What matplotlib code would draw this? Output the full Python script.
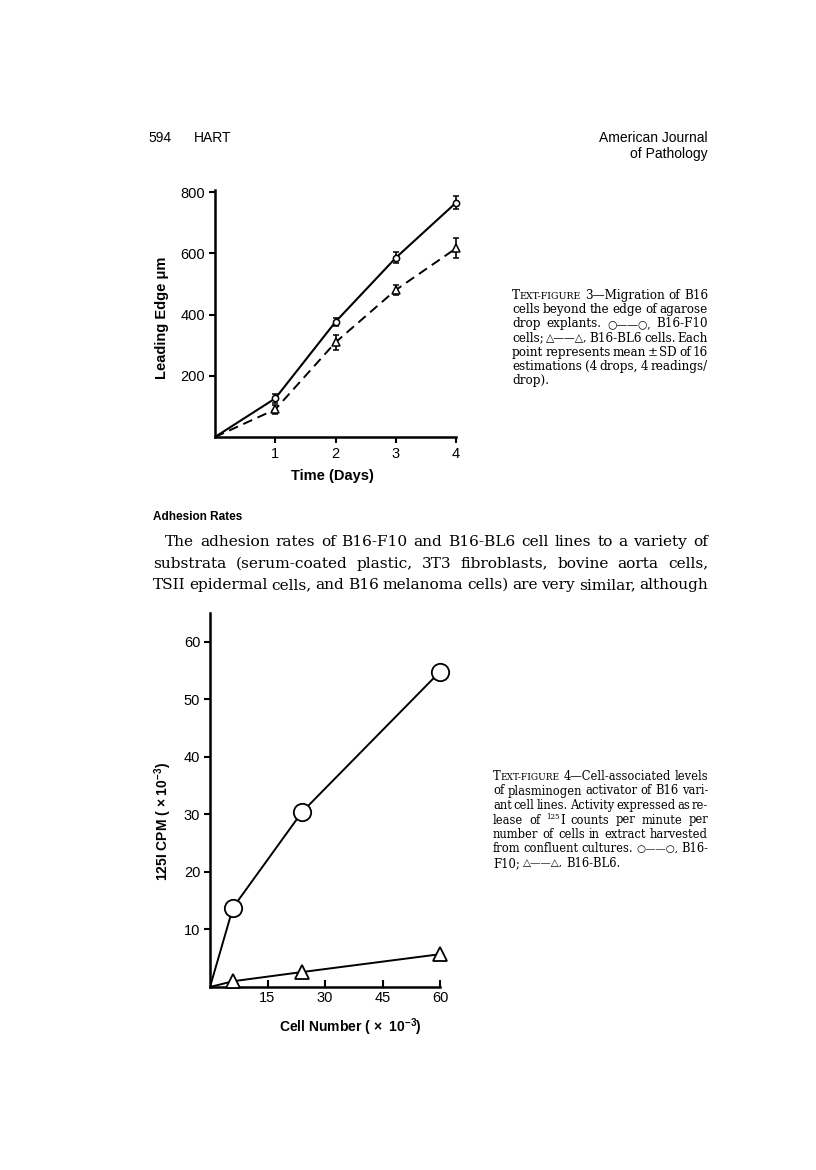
import matplotlib
matplotlib.use("Agg")
import matplotlib.pyplot as plt

# Text-figure 3: leading edge (um) vs time (days), mean +- SD
days = [0, 1, 2, 3, 4]
f10_edge = [0, 126, 376, 585, 765]
f10_sd = [0, 14, 14, 18, 22]
bl6_edge = [0, 90, 309, 480, 616]
bl6_sd = [0, 16, 25, 16, 33]

# Text-figure 4: 125I CPM (x 10^-3) vs cell number (x 10^-3)
cells = [0, 6, 24, 60]
f10_cpm = [0, 13.8, 30.4, 54.8]
bl6_cpm = [0, 1.0, 2.6, 5.7]

cap3 = ["TEXT-FIGURE 3\u2014Migration of B16",
        "cells beyond the edge of agarose",
        "drop explants. \u25cb\u2014\u2014\u25cb, B16-F10",
        "cells; \u25b3\u2014\u2014\u25b3, B16-BL6 cells. Each",
        "point represents mean \u00b1 SD of 16",
        "estimations (4 drops, 4 readings/",
        "drop)."]
cap4 = ["TEXT-FIGURE 4\u2014Cell-associated levels",
        "of plasminogen activator of B16 vari-",
        "ant cell lines. Activity expressed as re-",
        "lease of 125I counts per minute per",
        "number of cells in extract harvested",
        "from confluent cultures. \u25cb\u2014\u2014\u25cb, B16-",
        "F10; \u25b3\u2014\u2014\u25b3, B16-BL6."]
body = ["The adhesion rates of B16-F10 and B16-BL6 cell lines to a variety of",
        "substrata (serum-coated plastic, 3T3 fibroblasts, bovine aorta cells,",
        "TSII epidermal cells, and B16 melanoma cells) are very similar, although"]

W, H = 816, 1170
SANS = ["Liberation Sans", "DejaVu Sans"]
SERIF = ["DejaVu Serif", "DejaVu Sans"]

plt.rcParams["font.family"] = SANS
plt.rcParams["mathtext.fontset"] = "custom"
plt.rcParams["mathtext.rm"] = "Liberation Sans:bold"

fig = plt.figure(figsize=(W / 100, H / 100), dpi=100)
renderer = fig.canvas.get_renderer()


def box(l, t, r, b):
    return [l / W, 1 - b / H, (r - l) / W, (b - t) / H]


def word_parts(w):
    if w.startswith("TEXT-FIGURE"):
        return [("T", 1.0, 0.0), ("EXT-FIGURE", 0.78, 0.0)]
    if w == "125I":
        return [("125", 0.62, 0.42), ("I", 1.0, 0.0)]
    if "\u25cb" in w or "\u25b3" in w:
        return [(w, 0.9, 0.0)]
    return [(w, 1.0, 0.0)]


def measure(line, size):
    out = []
    for w in line.split(" "):
        parts, wd = [], 0
        for s, sc, rise in word_parts(w):
            t = fig.text(0, 0, s, fontsize=size * sc, family=SERIF, va="baseline")
            parts.append((t, wd, rise))
            wd += t.get_window_extent(renderer).width
        out.append((parts, wd))
    return out


def fit_size(lines, avail, size, min_gap=0.16):
    # largest size at which every line fits with a small word gap
    best = size
    for ln in lines:
        ws = measure(ln, size)
        nat = sum(w for _, w in ws) + min_gap * size * 100 / 72 * (len(ws) - 1)
        for p, _ in ws:
            for t, _, _ in p:
                t.remove()
        best = min(best, size * avail / nat)
    return best


def set_block(lines, x0, x1, base0, step, size, indent=0, last_free=True):
    px = size * 100 / 72
    for i, ln in enumerate(lines):
        ws = measure(ln, size)
        total = sum(w for _, w in ws)
        left = x0 + (indent if i == 0 else 0)
        gap = 0.28 * px
        if len(ws) > 1 and not (last_free and i == len(lines) - 1):
            gap = (x1 - left - total) / (len(ws) - 1)
        x = left
        base = base0 + i * step
        for parts, wd in ws:
            for t, off, rise in parts:
                t.set_position(((x + off) / W, 1 - (base - rise * px) / H))
            x += wd + gap


# page header
fig.text(148 / W, 1 - 142 / H, "594", fontsize=10)
fig.text(194 / W, 1 - 142 / H, "HART", fontsize=10)
fig.text(708 / W, 1 - 142 / H, "American Journal", fontsize=10, ha="right")
fig.text(708 / W, 1 - 158 / H, "of Pathology", fontsize=10, ha="right")

# ---- top chart
ax1 = fig.add_axes(box(215, 190, 456, 437))
ax1.plot(days, f10_edge, "-", color="black", lw=1.5)
ax1.plot(days, bl6_edge, color="black", lw=1.4, dashes=(5, 3))
ax1.errorbar(days[1:], f10_edge[1:], yerr=f10_sd[1:], fmt="o", ms=4.5, mfc="white",
             mec="black", mew=1.1, ecolor="black", elinewidth=1.2, capsize=2.5,
             capthick=1.2, clip_on=False)
ax1.errorbar(days[1:], bl6_edge[1:], yerr=bl6_sd[1:], fmt="^", ms=5.5, mfc="white",
             mec="black", mew=1.1, ecolor="black", elinewidth=1.2, capsize=2.5,
             capthick=1.2, clip_on=False)
ax1.set_xlim(0, 4)
ax1.set_ylim(0, 800 * 247 / 245)
ax1.set_xticks([1, 2, 3, 4])
ax1.set_yticks([200, 400, 600, 800])
ax1.tick_params(direction="out", length=4, width=1.5, labelsize=10.5, pad=3)
fig.text(162 / W, 1 - 318 / H, "Leading Edge \u03bcm", rotation=90, ha="center",
         va="center", fontsize=10.5, fontweight="bold")
fig.text(332 / W, 1 - 476 / H, "Time (Days)", ha="center", va="center",
         fontsize=10.5, fontweight="bold")

# ---- bottom chart
ax2 = fig.add_axes(box(210, 613, 440, 987))
ax2.plot(cells, f10_cpm, "-", color="black", lw=1.4)
ax2.plot(cells, bl6_cpm, "-", color="black", lw=1.4)
ax2.plot(cells[1:], f10_cpm[1:], "o", ms=12.5, mfc="white", mec="black", mew=1.3,
         clip_on=False, zorder=3)
ax2.plot(cells[1:], bl6_cpm[1:], "^", ms=10.5, mfc="white", mec="black", mew=1.3,
         clip_on=False, zorder=3)
ax2.set_xlim(0, 60)
ax2.set_ylim(0, 65)
ax2.set_xticks([15, 30, 45, 60])
ax2.set_yticks([10, 20, 30, 40, 50, 60])
ax2.tick_params(axis="x", direction="in", length=5, width=1.5, labelsize=10.5, pad=3)
ax2.tick_params(axis="y", direction="out", length=4, width=1.5, labelsize=10.5, pad=3)
fig.text(163 / W, 1 - 822 / H, "125I CPM ( \u00d7 $10^{-3}$)", rotation=90, ha="center",
         va="center", fontsize=10, fontweight="bold")
fig.text(350 / W, 1 - 1027 / H, "Cell Number ( \u00d7  $10^{-3}$)", ha="center",
         va="center", fontsize=10, fontweight="bold")

for ax in (ax1, ax2):
    for s in ("top", "right"):
        ax.spines[s].set_visible(False)
    for s in ("left", "bottom"):
        ax.spines[s].set_linewidth(1.8)

# ---- captions and body text
s3 = fit_size(cap3[:-1], 708 - 512, 9.5)
set_block(cap3, 512, 708, 299, 14.2, s3)
s4 = fit_size(cap4[:-1], 708 - 493, 9.5)
set_block(cap4, 493, 708, 780, 14.5, s4)

fig.text(153 / W, 1 - 520 / H, "Adhesion Rates", fontsize=8.5, fontweight="bold")
sb = fit_size(body, 708 - 165, 13)
set_block(body, 153, 708, 546, 21.5, sb, indent=12, last_free=False)

fig.savefig("out.png", dpi=100)
